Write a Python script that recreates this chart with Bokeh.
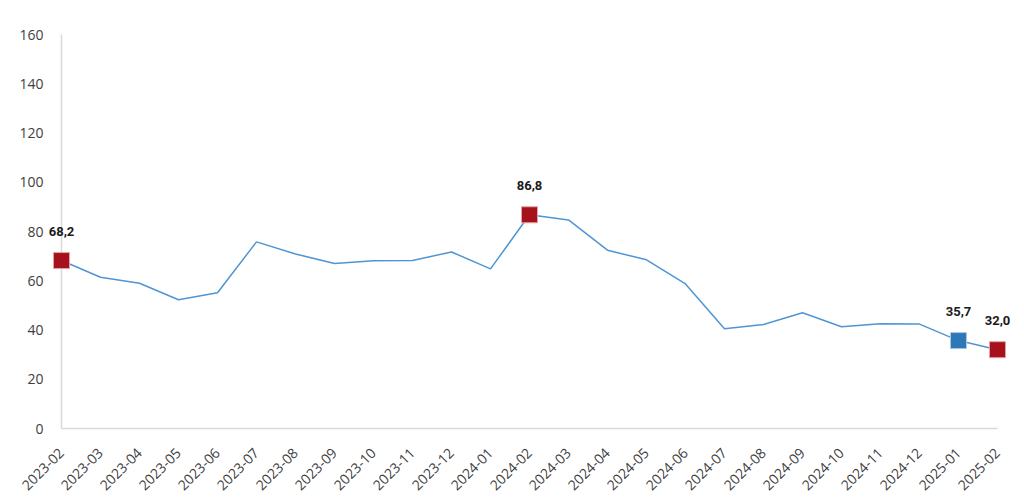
from bokeh.plotting import figure
from bokeh.models import Range1d, FixedTicker, ColumnDataSource
from bokeh.core.properties import value
from bokeh.embed import file_html
from bokeh.resources import INLINE
from math import pi

months = ["2023-02", "2023-03", "2023-04", "2023-05", "2023-06", "2023-07", "2023-08",
          "2023-09", "2023-10", "2023-11", "2023-12", "2024-01", "2024-02", "2024-03",
          "2024-04", "2024-05", "2024-06", "2024-07", "2024-08", "2024-09", "2024-10",
          "2024-11", "2024-12", "2025-01", "2025-02"]
values = [68.2, 61.4, 59.0, 52.3, 55.1, 75.8, 70.9, 67.0, 68.1, 68.2, 71.7, 64.8, 86.8,
          84.7, 72.4, 68.5, 58.7, 40.5, 42.2, 47.0, 41.3, 42.5, 42.4, 35.7, 32.0]
red_idx = [0, 12, 24]
blue_idx = [23]
y_ticks = [0, 20, 40, 60, 80, 100, 120, 140, 160]

xs = list(range(len(months)))

p = figure(width=1016, height=497, x_range=Range1d(0, len(months) - 1),
           y_range=Range1d(0, 160), output_backend="svg", toolbar_location=None,
           min_border_left=61, min_border_right=19, min_border_top=34, min_border_bottom=69)
p.outline_line_color = None
p.xgrid.grid_line_color = None
p.ygrid.grid_line_color = None

p.line(xs, values, line_color="#4f95d4", line_width=1.5)

red_src = ColumnDataSource(dict(x=[xs[i] for i in red_idx], y=[values[i] for i in red_idx],
                                t=[f"{values[i]:.1f}".replace(".", ",") for i in red_idx]))
blue_src = ColumnDataSource(dict(x=[xs[i] for i in blue_idx], y=[values[i] for i in blue_idx],
                                 t=[f"{values[i]:.1f}".replace(".", ",") for i in blue_idx]))

r1 = p.scatter("x", "y", source=red_src, marker="square", size=16,
               fill_color="#a6121c", line_color="#e8a0a4", line_width=1)
r1.level = "overlay"
r2 = p.scatter("x", "y", source=blue_src, marker="square", size=16,
               fill_color="#2e78b8", line_color="#a8c8e8", line_width=1)
r2.level = "overlay"

for src in (red_src, blue_src):
    t = p.text(x="x", y="y", text="t", source=src, y_offset=-25,
               text_align="center", text_baseline="bottom",
               text_font=value("Roboto"), text_font_style="bold",
               text_font_size="13px", text_color="#1a1a1a")
    t.level = "overlay"

p.xaxis.ticker = FixedTicker(ticks=xs)
p.xaxis.major_label_overrides = {i: m for i, m in enumerate(months)}
p.xaxis.major_label_orientation = pi / 4
p.yaxis.ticker = FixedTicker(ticks=y_ticks)

for ax in (p.xaxis, p.yaxis):
    ax.axis_line_color = "#d9d9d9"
    ax.axis_line_width = 1.5
    ax.major_tick_line_color = None
    ax.minor_tick_line_color = None
    ax.major_label_text_font = "Open Sans"
    ax.major_label_text_font_size = "14px"
    ax.major_label_text_color = "#404040"
p.yaxis.major_label_standoff = 12
p.xaxis.major_label_standoff = 16

open("out.html", "w").write(file_html(p, INLINE))
